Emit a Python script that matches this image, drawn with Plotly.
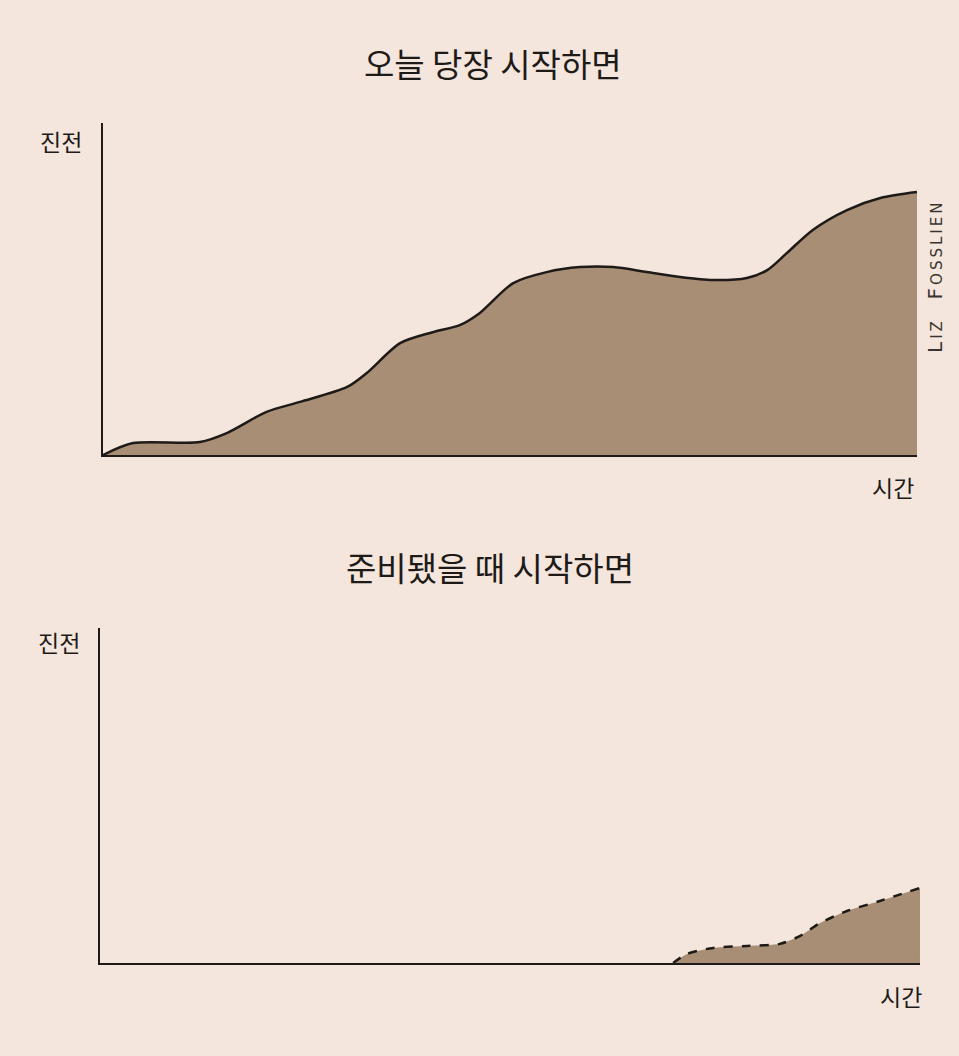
import plotly.graph_objects as go

# ---- data (time 0-100, progress 0-100) ----
time_now = [0, 3.7, 11.9, 15.2, 20.1, 24.2, 30.0, 32.4, 36.5, 40.5, 43.9, 46.3, 50.4, 54.5,
            58.6, 62.7, 66.8, 70.9, 74.9, 79.1, 81.6, 84.0, 87.2, 91.4, 95.5, 100]
progress_now = [0, 3.6, 3.9, 6.6, 13.0, 16.0, 20.5, 24.7, 33.7, 37.0, 39.2, 42.8, 51.8, 55.1,
                56.6, 56.6, 55.1, 53.6, 52.7, 53.3, 55.7, 60.8, 67.8, 73.8, 77.4, 79.2]

time_ready = [69.9, 71.6, 74.8, 78.9, 82.9, 85.4, 87.8, 91.1, 95.1, 100]
progress_ready = [0, 2.7, 4.5, 5.1, 5.7, 8.1, 11.9, 15.5, 18.5, 22.4]

titles = ["오늘 당장 시작하면", "준비됐을 때 시작하면"]
y_label = "진전"
x_label = "시간"
credit = ("<span style='letter-spacing:3px'>L<span style='font-size:15px'>IZ</span>  "
          "F<span style='font-size:15px'>OSSLIEN</span></span>")

BG = "#f4e6dc"
FILL = "#a98e76"
INK = "#1e1a18"
FONT = "Noto Sans CJK KR"

fig = go.Figure()

fig.add_trace(go.Scatter(
    x=time_now, y=progress_now, mode="lines", fill="tozeroy",
    fillcolor=FILL, line=dict(color=INK, width=2.5, shape="spline", smoothing=0.8),
    xaxis="x", yaxis="y", hoverinfo="skip", showlegend=False))

fig.add_trace(go.Scatter(
    x=time_ready, y=progress_ready, mode="lines", fill="tozeroy",
    fillcolor=FILL, line=dict(color=INK, width=2.5, dash="dash", shape="spline", smoothing=0.8),
    xaxis="x2", yaxis="y2", hoverinfo="skip", showlegend=False))

ax_common = dict(range=[0, 100], showgrid=False, zeroline=False, showticklabels=False,
                 ticks="", showline=True, linecolor=INK, linewidth=2, fixedrange=True)

fig.update_layout(
    width=959, height=1056,
    paper_bgcolor=BG, plot_bgcolor="rgba(0,0,0,0)",
    margin=dict(l=0, r=0, t=0, b=0),
    font=dict(family=FONT, color=INK),
    xaxis=dict(domain=[0.1074, 0.9562], anchor="y", **ax_common),
    yaxis=dict(domain=[0.5691, 0.8835], anchor="x", **ax_common),
    xaxis2=dict(domain=[0.1043, 0.9593], anchor="y2", **ax_common),
    yaxis2=dict(domain=[0.0881, 0.4053], anchor="x2", **ax_common),
)

def px(x, y):
    return x / 959, 1 - y / 1056

annots = [
    (493, 63, titles[0], 33),
    (490, 567, titles[1], 33),
    (61, 141, y_label, 23),
    (59, 642, y_label, 23),
    (893, 487, x_label, 23),
    (901, 996, x_label, 23),
]
for x, y, t, s in annots:
    ax_, ay_ = px(x, y)
    fig.add_annotation(x=ax_, y=ay_, xref="paper", yref="paper", text=t, showarrow=False,
                       xanchor="center", yanchor="middle", font=dict(size=s, color=INK, family=FONT))

cx, cy = px(935, 277)
fig.add_annotation(x=cx, y=cy, xref="paper", yref="paper", text=credit, showarrow=False,
                   textangle=-90, xanchor="center", yanchor="middle",
                   font=dict(size=20, color="#3a3430", family="DejaVu Sans"))

fig.write_html("out.html", config={"displayModeBar": False, "staticPlot": True},
               post_script="document.body.style.margin='0';document.body.style.background='%s';" % BG)
